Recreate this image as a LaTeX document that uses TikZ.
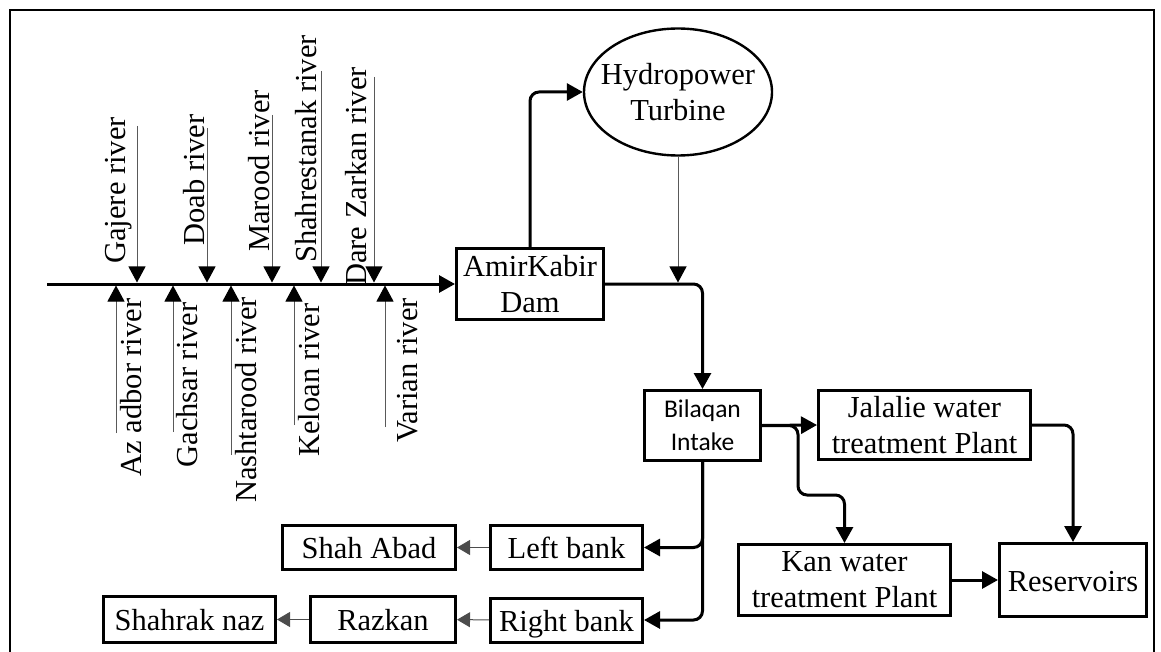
\documentclass[tikz,border=0pt]{standalone}
\usepackage{fontspec}
\setmainfont{Liberation Serif}
\newfontfamily\intakefont{Carlito}
\usetikzlibrary{arrows.meta,shapes.geometric,positioning,calc}

\begin{document}
\begin{tikzpicture}[x=1pt,y=-1pt,
        font=\fontsize{30.5}{36}\selectfont,
        >={Triangle[width=17pt,length=16pt]},
        box/.style={draw,line width=3pt,align=center,inner sep=0pt},
        one/.style={text height=23pt,text depth=1pt},
        flow/.style={->,line width=3pt,rounded corners=9pt},
        side/.style={-{Triangle[width=15pt,length=13pt]},line width=1pt,draw=black!70},
        feed/.style={-{Triangle[width=17pt,length=16pt,color=black]},line width=1pt,draw=black!65},
        lbl/.style={rotate=90,inner sep=0pt}]
            \useasboundingbox (0,0) rectangle (1161,652);
            % outer frame
            \draw[line width=2.4pt] (10,10) rectangle (1154,662);

            % Draw the dam and the turbine
            \node[box,minimum width=147,minimum height=71] (dam) at (530,284) {AmirKabir\\Dam};
            \node[ellipse,draw,line width=2.4pt,inner xsep=-24pt,inner ysep=0pt,minimum width=188,minimum height=127,align=center] (turb) at (678,92) {Hydropower\\Turbine};

            % Draw the treatment side
            \node[box,minimum width=116,minimum height=70,font=\intakefont\fontsize{25.5}{33}\selectfont] (intake) at (702.5,425.5) {Bilaqan\\Intake};
            \node[box,minimum width=212,minimum height=69] (jal) at (924.5,425) {Jalalie water\\treatment Plant};
            \node[box,minimum width=212,minimum height=71] (kan) at (844.5,580) {Kan water\\treatment Plant};
            \node[box,one,minimum width=147,minimum height=73] (res) at (1073,580) {Reservoirs};

            % Draw the banks
            \node[box,one,minimum width=152,minimum height=44] (left) at (566.5,547.5) {Left bank};
            \node[box,one,minimum width=152,minimum height=44] (right) at (566.5,620) {Right bank};
            \node[box,one,minimum width=173,minimum height=44] (shah) at (369,547.5) {Shah Abad};
            \node[box,one,minimum width=145,minimum height=46] (razkan) at (383,619.5) {Razkan};
            \node[box,one,minimum width=172,minimum height=46] (shahrak) at (189.5,619.5) {Shahrak naz};

            % main river into the dam
            \coordinate (src) at (47,284);
            \draw[flow] (src) -- (dam.west);

            % rivers joining from above
            \foreach \x/\ytop/\lx/\ly/\txt[count=\c] in {137/126/118.5/190.5/Gajere river, 207/128/194/180/Doab river, 272/115/259/171/Marood river, 321/71/306/149/Shahrestanak river, 374/77/356/176.5/Dare Zarkan river}{
                \coordinate (ta\c) at (\x,\ytop);
                \coordinate (tb\c) at (\x,282.5);
                \draw[feed] (ta\c) -- (tb\c);
                \node[lbl] (la\c) at (\lx,\ly) {\txt};
            }

            % rivers joining from below
            \foreach \x/\ybot/\lx/\ly/\txt[count=\c] in {116/433/131/387.5/Az adbor river, 173/432/187.5/385/Gachsar river, 231/455/246/400/Nashtarood river, 294/425/309/380/Keloan river, 385/427/407.5/370.5/Varian river}{
                \coordinate (ba\c) at (\x,\ybot);
                \coordinate (bb\c) at (\x,285.5);
                \draw[feed] (ba\c) -- (bb\c);
                \node[lbl] (lb\c) at (\lx,\ly) {\txt};
            }

            % dam outflows
            \draw[flow] (dam.north) |- (turb.west);
            \draw[flow] (dam.east) -| (intake.north);
            \coordinate (tj) at (678,282.5);
            \draw[feed] (turb.south) -- (tj);

            % intake to the plants
            \coordinate (kbend) at (798,495);
            \draw[flow] (intake.east) -- (jal.west);
            \draw[flow] (intake.east) -| (kbend) -| (kan.north);
            \draw[flow] (jal.east) -| (res.north);
            \draw[flow] (kan.east) -- (res.west);

            % intake to the banks
            \draw[flow] (intake.south) |- (left.east);
            \draw[flow] (intake.south) |- (right.east);
            \draw[side] (left) -- (shah);
            \draw[side] (right) -- (razkan);
            \draw[side] (razkan) -- (shahrak);
        \end{tikzpicture}
\end{document}
